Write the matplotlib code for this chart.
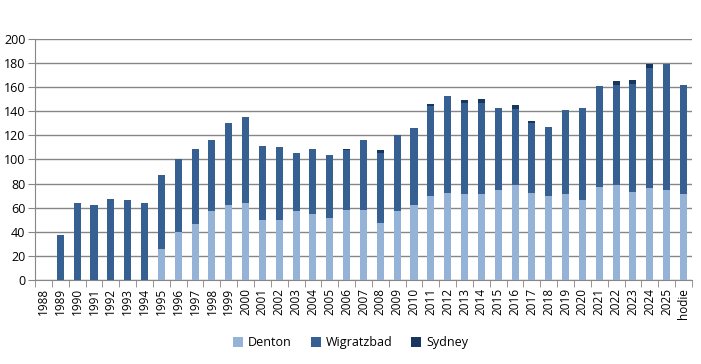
import numpy as np
import matplotlib.pyplot as plt

years = [str(y) for y in range(1988, 2026)] + ["hodie"]
denton = [0, 0, 0, 0, 0, 0, 0, 26, 40, 46, 57, 62, 64, 50, 50, 57, 55, 51, 58, 58,
          47, 57, 62, 70, 72, 71, 71, 75, 79, 72, 70, 71, 66, 77, 79, 73, 76, 75, 71]
wigratzbad = [0, 37, 64, 62, 67, 66, 64, 61, 60, 63, 59, 68, 71, 61, 60, 48, 54, 53, 50, 58,
              58, 63, 64, 74, 81, 76, 76, 68, 63, 58, 57, 70, 77, 84, 83, 90, 100, 104, 91]
sydney = [0, 0, 0, 0, 0, 0, 0, 0, 0, 0, 0, 0, 0, 0, 0, 0, 0, 0, 1, 0,
          3, 0, 0, 2, 0, 2, 3, 0, 3, 2, 0, 0, 0, 0, 3, 3, 3, 0, 0]

plt.rcParams['font.family'] = ['Open Sans', 'DejaVu Sans']

x = np.arange(len(years))
d = np.array(denton)
w = np.array(wigratzbad)
s = np.array(sydney)

fig = plt.figure(figsize=(7.01, 3.64), dpi=100)
ax = fig.add_axes([0.05, 0.231, 0.937, 0.662])

bw = 0.42
ax.bar(x, d, bw, color="#95B3D7", label="Denton", zorder=3)
ax.bar(x, w, bw, bottom=d, color="#366092", label="Wigratzbad", zorder=3)
ax.bar(x, s, bw, bottom=d + w, color="#17375E", label="Sydney", zorder=3)

ax.set_xlim(-0.5, len(years) - 0.5)
ax.set_ylim(0, 200)
ax.set_yticks(range(0, 201, 20))
ax.yaxis.grid(True, color="#868686", linewidth=1)
ax.set_axisbelow(True)

ax.set_xticks(x)
ax.set_xticklabels(years, rotation=90, fontsize=8.5)
ax.set_xticks(np.arange(-0.5, len(years), 1), minor=True)
ax.tick_params(axis="x", which="major", length=0, pad=6)
ax.tick_params(axis="x", which="minor", length=5, color="#868686")
ax.tick_params(axis="y", labelsize=9, length=5, color="#868686", pad=2)

for side in ["top", "right"]:
    ax.spines[side].set_visible(False)
for side in ["left", "bottom"]:
    ax.spines[side].set_color("#868686")

fig.legend(loc="center", bbox_to_anchor=(0.5, 0.058), ncol=3, frameon=False,
           fontsize=9, handlelength=0.8, handleheight=0.8, handletextpad=0.4,
           columnspacing=1.5)

fig.savefig("out.png", dpi=100)
